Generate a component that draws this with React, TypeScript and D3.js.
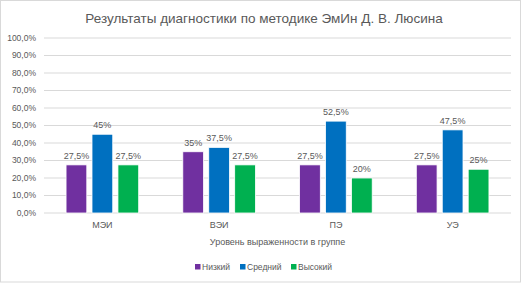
import { useMemo } from "react";
import * as d3 from "d3";

const WIDTH = 525;
const HEIGHT = 283;
const MARGIN = { top: 38, right: 14, bottom: 70, left: 44 };

const categories = ["МЭИ", "ВЭИ", "ПЭ", "УЭ"];
const seriesNames = ["Низкий", "Средний", "Высокий"];
const seriesColors = ["#7030A0", "#0070C0", "#00B050"];
const low = [27.5, 35, 27.5, 27.5];
const mid = [45, 37.5, 52.5, 47.5];
const high = [27.5, 27.5, 20, 25];
const yTicks = [0, 10, 20, 30, 40, 50, 60, 70, 80, 90, 100];

const TEXT = "#595959";
const FONT = "'Liberation Sans', 'DejaVu Sans', sans-serif";

const fmtTick = (v: number) => v.toFixed(1).replace(".", ",") + "%";
const fmtLabel = (v: number) => String(v).replace(".", ",") + "%";

export default function App() {
  const boundsWidth = WIDTH - MARGIN.left - MARGIN.right;
  const boundsHeight = HEIGHT - MARGIN.top - MARGIN.bottom;
  const series = [low, mid, high];

  const xScale = useMemo(
    () => d3.scaleBand<string>().domain(categories).range([0, boundsWidth]).paddingInner(0).paddingOuter(0),
    [boundsWidth]
  );
  const yScale = useMemo(
    () => d3.scaleLinear().domain([0, 100]).range([boundsHeight, 0]),
    [boundsHeight]
  );
  // three bars per group, about 62% of the band
  const inner = useMemo(
    () =>
      d3
        .scaleBand<string>()
        .domain(seriesNames)
        .range([0, xScale.bandwidth()])
        .paddingOuter(0.85)
        .paddingInner(0.2),
    [xScale]
  );

  // legend: marker x positions, text follows each marker
  const legendX = [195, 240, 291];

  return (
    <div style={{ position: "absolute", left: 0, top: 0 }}>
      <svg width={WIDTH} height={HEIGHT} style={{ display: "block", fontFamily: FONT }}>
        <rect x={0.5} y={0.5} width={WIDTH - 5} height={HEIGHT - 1.5} fill="#fff" stroke="#d9d9d9" />
        <text x={264} y={23} textAnchor="middle" fontSize={13.5} fill={TEXT}>
          Результаты диагностики по методике ЭмИн Д. В. Люсина
        </text>
        <g transform={`translate(${MARGIN.left},${MARGIN.top})`}>
          {yTicks.map((t) => (
            <g key={t}>
              <line x1={0} x2={boundsWidth} y1={yScale(t)} y2={yScale(t)} stroke="#d9d9d9" strokeWidth={1} />
              <text x={-8} y={yScale(t)} dy="0.35em" textAnchor="end" fontSize={8.5} fill={TEXT}>
                {fmtTick(t)}
              </text>
            </g>
          ))}
          {categories.map((c, ci) => (
            <g key={c} transform={`translate(${xScale(c)},0)`}>
              {series.map((vals, si) => {
                const x = inner(seriesNames[si]) as number;
                const y = yScale(vals[ci]);
                return (
                  <g key={si}>
                    <rect
                      x={x}
                      y={y}
                      width={inner.bandwidth()}
                      height={boundsHeight - y}
                      fill={seriesColors[si]}
                      stroke="#fff"
                      strokeWidth={0.8}
                    />
                    <text x={x + inner.bandwidth() / 2} y={y - 6} textAnchor="middle" fontSize={9} fill={TEXT}>
                      {fmtLabel(vals[ci])}
                    </text>
                  </g>
                );
              })}
              <text x={xScale.bandwidth() / 2} y={boundsHeight + 15} textAnchor="middle" fontSize={9} fill={TEXT}>
                {c}
              </text>
            </g>
          ))}
        </g>
        <text x={MARGIN.left + boundsWidth / 2} y={245} textAnchor="middle" fontSize={9} fill={TEXT}>
          Уровень выраженности в группе
        </text>
        <g>
          {seriesNames.map((name, i) => (
            <g key={name} transform={`translate(${legendX[i]},267)`}>
              <rect x={0} y={-3} width={5.5} height={5.5} fill={seriesColors[i]} />
              <text x={7} y={0} dy="0.35em" fontSize={8.5} fill={TEXT}>
                {name}
              </text>
            </g>
          ))}
        </g>
      </svg>
    </div>
  );
}
